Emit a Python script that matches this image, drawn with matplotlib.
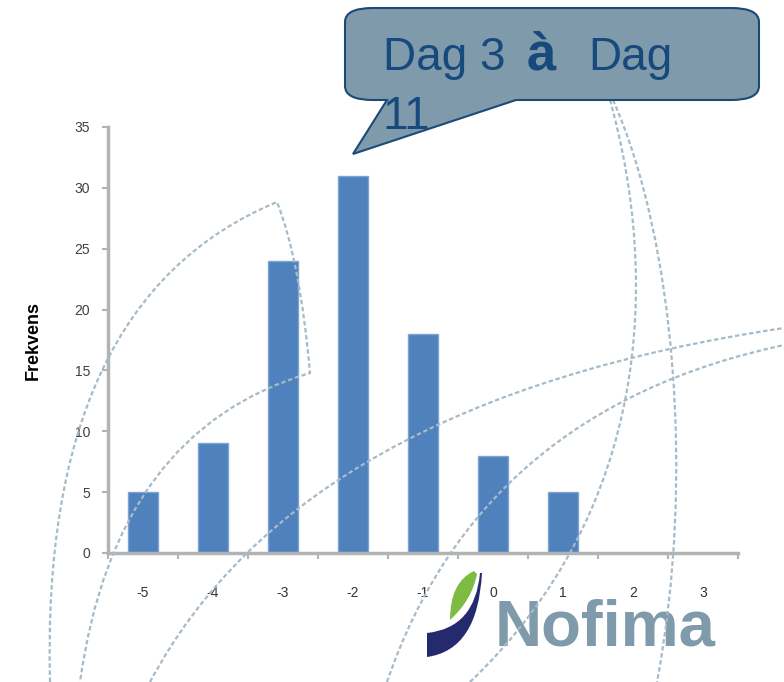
import matplotlib
matplotlib.use("Agg")
import matplotlib.pyplot as plt
from matplotlib.path import Path
from matplotlib.patches import PathPatch

# data
categories = [-5, -4, -3, -2, -1, 0, 1, 2, 3]
freq = [5, 9, 24, 31, 18, 8, 5, 0, 0]
yticks = [0, 5, 10, 15, 20, 25, 30, 35]
ylabel = 'Frekvens'
callout_words = ['Dag 3', 'à', 'Dag', '11']
logo_text = 'Nofima'

W, H = 784, 682
plt.rcParams['font.family'] = ['Liberation Sans', 'DejaVu Sans']
plt.rcParams['axes.unicode_minus'] = False

fig = plt.figure(figsize=(W / 100, H / 100), dpi=100)
ax = fig.add_axes([108 / W, (H - 553) / H, 630 / W, 426 / H])

ax.bar(categories, freq, width=0.43, color='#4f81bd', edgecolor='#7ea4d6', linewidth=1, zorder=2)
ax.set_xlim(-5.5, 3.5)
ax.set_ylim(0, 35)
ax.set_yticks(yticks)
ax.set_xticks(categories)
ax.set_xticklabels([str(c) for c in categories])
ax.set_xticks([c - 0.5 for c in categories] + [categories[-1] + 0.5], minor=True)

for s in ['top', 'right']:
    ax.spines[s].set_visible(False)
for s in ['left', 'bottom']:
    ax.spines[s].set_color('#b3b3b3')
    ax.spines[s].set_linewidth(2.5)

ax.tick_params(axis='x', which='major', length=0, pad=24, labelsize=10, labelcolor='#333333')
ax.tick_params(axis='x', which='minor', length=4, width=1.5, color='#b3b3b3', direction='out')
ax.tick_params(axis='y', length=4, width=1.5, color='#b3b3b3', pad=9, labelsize=10, labelcolor='#404040')

fig.text(33 / W, 1 - 340 / H, ylabel, rotation=90, fontsize=13, fontweight='bold',
         ha='center', va='center')


def fp(x, y):
    # pixel position (from top-left) -> figure fraction
    return (x / W, 1 - y / H)


def add_path(pts, codes, **kw):
    p = Path([fp(*q) for q in pts], codes)
    patch = PathPatch(p, transform=fig.transFigure, **kw)
    fig.patches.append(patch)
    return patch


# decorative dashed arcs in the background template
C3, C4, M, L_ = Path.CURVE3, Path.CURVE4, Path.MOVETO, Path.LINETO
dash = dict(fill=False, edgecolor='#a7bac7', linewidth=1.6, linestyle=(0, (2, 1.2)), zorder=5)
add_path([(50, 682), (40, 300), (277, 202), (300, 260), (310, 373), (115, 430), (80, 682)],
         [M, C3, C3, C3, C3, C3, C3], **dash)
add_path([(150, 682), (300, 400), (784, 328)], [M, C3, C3], **dash)
add_path([(387, 682), (480, 410), (784, 345)], [M, C3, C3], **dash)
add_path([(610, 100), (660, 280), (650, 510), (470, 682)], [M, C4, C4, C4], **dash)
add_path([(613, 100), (675, 240), (695, 480), (657, 682)], [M, C4, C4, C4], **dash)

# logo
add_path([(427, 657), (478, 650), (482, 573), (480, 573), (475, 628), (427, 633), (427, 657)],
         [M, C3, C3, L_, C3, C3, Path.CLOSEPOLY], facecolor='#252a6f', edgecolor='none', zorder=4)
add_path([(450, 620), (450, 582), (474, 571), (477, 574), (472, 600), (450, 620), (450, 620)],
         [M, C3, C3, L_, C3, C3, Path.CLOSEPOLY], facecolor='#7dbb42', edgecolor='none', zorder=4)
fig.text(*fp(495, 645), logo_text, fontsize=47, fontweight='bold', color='#7f9aab',
         ha='left', va='baseline', zorder=4)

# callout bubble
Lx, Rx, T, B, rx, ry = 345, 759, 8, 100, 28, 14
pts = [(Lx + rx, T), (Rx - rx, T), (Rx, T), (Rx, T + ry), (Rx, B - ry), (Rx, B), (Rx - rx, B),
       (516, B), (353, 154), (387, B), (Lx + rx, B), (Lx, B), (Lx, B - ry), (Lx, T + ry),
       (Lx, T), (Lx + rx, T), (Lx + rx, T)]
codes = [M, L_, C3, C3, L_, C3, C3, L_, L_, L_, L_, C3, C3, L_, C3, C3, Path.CLOSEPOLY]
add_path(pts, codes, facecolor='#7f9aab', edgecolor='#1b4a78', linewidth=1.5, zorder=6)

tc = '#164a7c'
fig.text(*fp(383, 70), callout_words[0], fontsize=33, color=tc, va='baseline', zorder=7)
fig.text(*fp(527, 70), callout_words[1], fontsize=38, color=tc, fontweight='bold', va='baseline', zorder=7)
fig.text(*fp(588, 70), callout_words[2], fontsize=33, color=tc, va='baseline', zorder=7)
fig.text(*fp(383, 129), callout_words[3], fontsize=33, color=tc, va='baseline', zorder=7)

fig.savefig('out.png', dpi=100)
